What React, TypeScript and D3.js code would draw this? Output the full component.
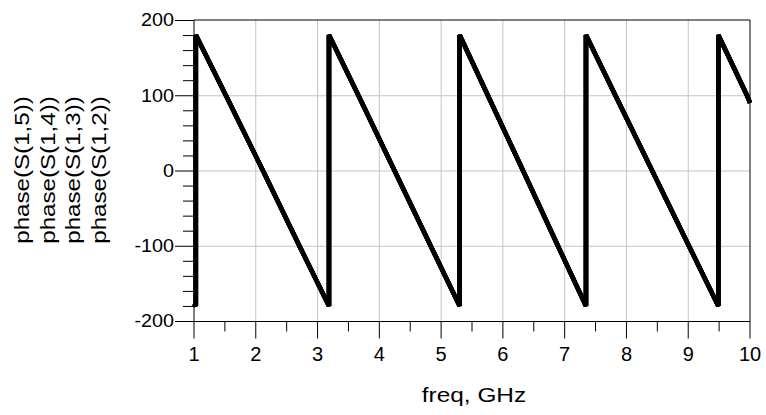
import React from "react";
import * as d3 from "d3";

const W = 766;
const H = 415;

// Series names (all four overlap exactly)
const seriesNames = ["phase(S(1,5))", "phase(S(1,4))", "phase(S(1,3))", "phase(S(1,2))"];

// (GHz, degrees)
const freqGHz = [
  1.0, 1.03, 1.03, 1.515, 2.115, 2.705, 3.185,
  3.185, 3.66, 4.245, 4.83, 5.3,
  5.3, 5.755, 6.325, 6.89, 7.345,
  7.345, 7.82, 8.415, 9.01, 9.487,
  9.487, 9.95, 10.0,
];
const phaseDeg = [
  -177, -180, 180, 100, 0, -100, -180,
  180, 100, 0, -100, -180,
  180, 100, 0, -100, -180,
  180, 100, 0, -100, -180,
  180, 100, 90,
];

const xTicks = [1, 2, 3, 4, 5, 6, 7, 8, 9, 10];
const xMinorTicks = [1.5, 2.5, 3.5, 4.5, 5.5, 6.5, 7.5, 8.5, 9.5];
const yTicks = [-200, -100, 0, 100, 200];
const yMinorTicks = d3.range(-180, 200, 20).filter((v) => v % 100 !== 0);

const xLabel = "freq, GHz";

export default function App() {
  const x = d3.scaleLinear().domain([1, 10]).range([194, 750]);
  const y = d3.scaleLinear().domain([-200, 200]).range([321, 20]);

  const pts = freqGHz.map((f, i) => [f, phaseDeg[i]] as [number, number]);
  const line = d3
    .line<[number, number]>()
    .x((d) => x(d[0]))
    .y((d) => y(d[1]));

  const font = "'Liberation Sans', Arial, Helvetica, sans-serif";
  const x0 = x(1);
  const x1 = x(10);
  const yb = y(-200) + 0.5;
  const yt = y(200);

  return (
    <svg
      width={W}
      height={H}
      style={{ position: "absolute", left: 0, top: 0, background: "#fff" }}
      fontFamily={font}
    >
      {/* grid */}
      {xTicks.slice(1, -1).map((t) => (
        <line key={"gx" + t} x1={x(t)} x2={x(t)} y1={yt} y2={yb} stroke="#c4c4c4" strokeWidth={1} />
      ))}
      {yTicks.slice(1, -1).map((t) => (
        <line key={"gy" + t} x1={x0} x2={x1} y1={y(t) + 0.5} y2={y(t) + 0.5} stroke="#c4c4c4" strokeWidth={1} />
      ))}

      {/* frame */}
      <line x1={x0} x2={x1} y1={yt} y2={yt} stroke="#000" strokeWidth={1} />
      <line x1={x1} x2={x1} y1={yt} y2={yb} stroke="#000" strokeWidth={1} />
      <line x1={x0} x2={x0} y1={yt} y2={yb} stroke="#000" strokeWidth={1} />
      <line x1={x0} x2={x1} y1={yb} y2={yb} stroke="#000" strokeWidth={1} />

      {/* x ticks */}
      {xTicks.map((t) => (
        <g key={"xt" + t}>
          <line x1={x(t)} x2={x(t)} y1={yb} y2={yb + 17} stroke="#000" strokeWidth={1} />
          <text x={x(t)} y={361} textAnchor="middle" fontSize={20} fill="#000">
            {t}
          </text>
        </g>
      ))}
      {xMinorTicks.map((t) => (
        <line key={"xm" + t} x1={x(t)} x2={x(t)} y1={yb} y2={yb + 10} stroke="#000" strokeWidth={1} />
      ))}

      {/* y ticks */}
      {yTicks.map((t) => (
        <g key={"yt" + t}>
          <line x1={x0 - 19} x2={x0} y1={y(t) + 0.5} y2={y(t) + 0.5} stroke="#000" strokeWidth={1} />
          <text
            transform={`translate(174,${y(t) + 6.3}) scale(1.13,1)`}
            textAnchor="end"
            fontSize={17.5}
            fill="#000"
          >
            {t}
          </text>
        </g>
      ))}
      {yMinorTicks.map((t) => (
        <line key={"ym" + t} x1={x0 - 11} x2={x0} y1={y(t) + 0.5} y2={y(t) + 0.5} stroke="#000" strokeWidth={1} />
      ))}

      {/* data: four overlapping series */}
      {seriesNames.map((s) => (
        <path
          key={s}
          d={line(pts) || ""}
          fill="none"
          stroke="#000"
          strokeWidth={4.5}
          strokeLinejoin="miter"
          strokeMiterlimit={2}
        />
      ))}

      {/* y title */}
      {seriesNames.map((s, i) => (
        <text
          key={"yl" + s}
          transform={`translate(${29 + i * 25.5},170) rotate(-90) scale(1.15,1)`}
          textAnchor="middle"
          fontSize={21}
          fill="#000"
        >
          {s}
        </text>
      ))}

      {/* x title */}
      <text
        transform={`translate(474,402) scale(1.22,1)`}
        textAnchor="middle"
        fontSize={20}
        fill="#000"
      >
        {xLabel}
      </text>
    </svg>
  );
}
